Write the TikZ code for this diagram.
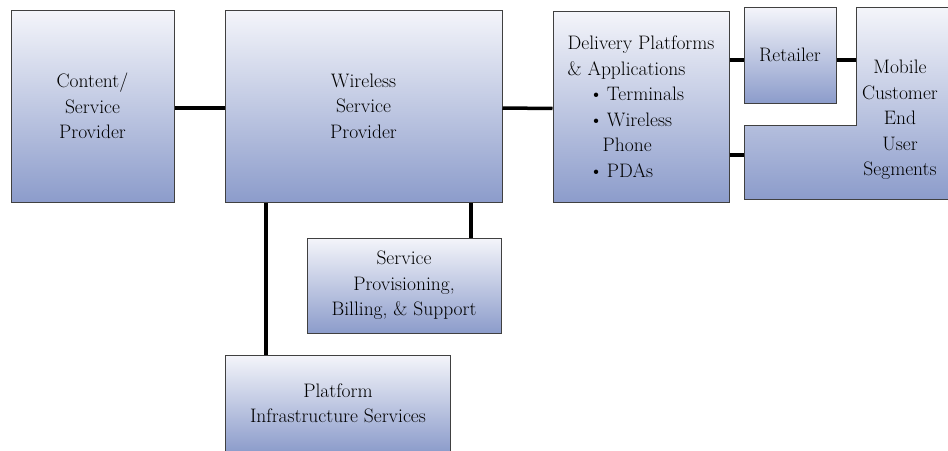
\documentclass[tikz,border=0pt]{standalone}
\usetikzlibrary{calc}
\definecolor{box_top}{RGB}{244, 245, 250}
\definecolor{box_bot}{RGB}{140, 156, 203}
\definecolor{box_edge}{RGB}{64, 64, 64}
\tikzstyle{bx}=[rectangle,top color=box_top,bottom color=box_bot,draw=box_edge,
  line width=1pt,inner sep=0pt,align=center,font=\fontsize{19.5}{25.5}\selectfont]
\tikzstyle{lbl}=[align=center,font=\fontsize{19.5}{25.5}\selectfont]
\tikzstyle{link}=[line width=3.5pt]
\tikzstyle{none}=[]

\begin{document}
\begin{tikzpicture}[x=1pt,y=-1pt]
        \useasboundingbox (0,0) rectangle (948,450);
        \clip (0,0) rectangle (948,450);
        \node [style=bx,minimum width=163pt,minimum height=192pt] (1) at (92.5,106) {Content/\\Service\\Provider};
		\node [style=bx,minimum width=277pt,minimum height=192pt] (2) at (363.5,106) {Wireless\\Service\\Provider};
		\node [style=bx,minimum width=176pt,minimum height=191pt,align=left] (3) at (641,106.5) {Delivery Platforms\\\& Applications\\\hspace*{1.1em}\textbullet\hspace{0.2em}Terminals\\\hspace*{1.1em}\textbullet\hspace{0.2em}Wireless\\\hspace*{1.8em}Phone\\\hspace*{1.1em}\textbullet\hspace{0.2em}PDAs};
		\node [style=bx,minimum width=92pt,minimum height=96pt] (4) at (790,55) {Retailer};
		\node [style=bx,minimum width=194pt,minimum height=95pt] (5) at (404,285.5) {Service\\Provisioning,\\Billing, \& Support};
		\node [style=bx,minimum width=225pt,minimum height=97pt] (6) at (338,403.5) {Platform\\Infrastructure Services};
		\shade [top color=box_top,bottom color=box_bot,draw=box_edge,line width=1pt]
			(856,7) -- (952,7) -- (952,199) -- (744,199) -- (744,125) -- (856,125) -- cycle;
		\node [style=lbl] (7) at (900,120) {Mobile\\Customer\\End\\User\\Segments};
		\node [style=none] (8) at (856,60) {};
		\node [style=none] (9) at (744,155) {};
		\draw [style=link] ([yshift=-2pt]1.east) to ([yshift=-2pt]2.west);
		\draw [style=link] ([yshift=-2pt]2.east) to ([yshift=-2pt]3.west);
		\draw [style=link] ([yshift=-5pt]3.east |- 4.west) to ([yshift=-5pt]4.west);
		\draw [style=link] ([yshift=-5pt]4.east) to (8.center);
		\draw [style=link] (3.east |- 9.center) to (9.center);
		\draw [style=link] ([xshift=-72pt]6.north |- 2.south) to ([xshift=-72pt]6.north);
		\draw [style=link] ([xshift=67pt]5.north |- 2.south) to ([xshift=67pt]5.north);
    \end{tikzpicture}
\end{document}
